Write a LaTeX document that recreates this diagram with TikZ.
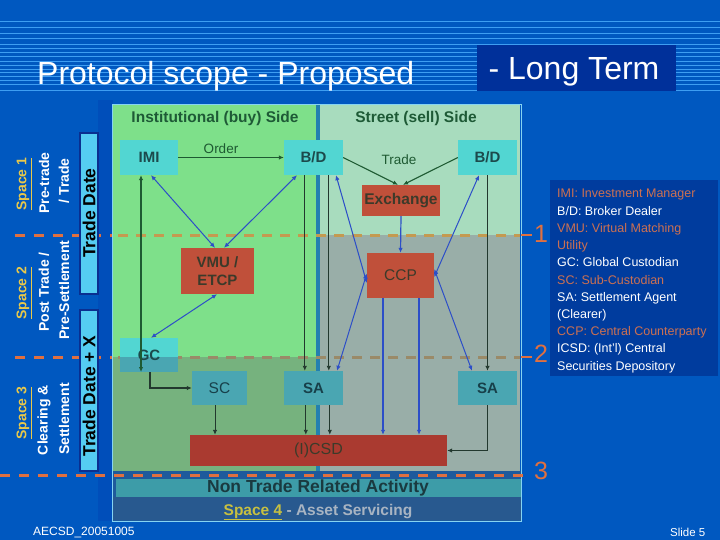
\documentclass[tikz,border=0pt]{standalone}
\usepackage{fontspec}
\setmainfont{Liberation Sans}
\usetikzlibrary{arrows.meta}
\definecolor{bg}{HTML}{0058C0}
\definecolor{stripec}{HTML}{3E9EF2}
\definecolor{ltbox}{HTML}{00309A}
\definecolor{greenup}{HTML}{7EE08A}
\definecolor{greenlow}{HTML}{76B27E}
\definecolor{mint}{HTML}{A8DCBE}
\definecolor{greyr}{HTML}{99AEA8}
\definecolor{divc}{HTML}{2380B0}
\definecolor{bandblue}{HTML}{1E5A9C}
\definecolor{ntband}{HTML}{3D9CA8}
\definecolor{sfourband}{HTML}{28598F}
\definecolor{framec}{HTML}{86D4F2}
\definecolor{cyanbox}{HTML}{52D6D2}
\definecolor{cyanlow}{HTML}{4AA6B2}
\definecolor{redbox}{HTML}{C0503A}
\definecolor{redlow}{HTML}{AA3A30}
\definecolor{boxtext}{HTML}{1C4A4C}
\definecolor{boxtextlow}{HTML}{17404A}
\definecolor{redtext}{HTML}{3C3A2A}
\definecolor{dgreen}{HTML}{1E5A32}
\definecolor{dline}{HTML}{22382E}
\definecolor{barrow}{HTML}{2C4EC8}
\definecolor{orangec}{HTML}{E07040}
\definecolor{tanc}{HTML}{C49A50}
\definecolor{tangrey}{HTML}{9A8A68}
\definecolor{spacey}{HTML}{E8C84A}
\definecolor{legor}{HTML}{CC7052}
\definecolor{tdbar}{HTML}{55CDF2}
\definecolor{tdborder}{HTML}{0A2F90}
\definecolor{leftstrip}{HTML}{004EBA}
\definecolor{legbg}{HTML}{003C9E}
\definecolor{headtext}{HTML}{1E5A36}
\definecolor{asgrey}{HTML}{A8B4C2}
\definecolor{s4yellow}{HTML}{C8C040}
\definecolor{nttext}{HTML}{1A3A40}
\begin{document}
\begin{tikzpicture}[x=1pt,y=-1pt,
  ubox/.style={fill=cyanbox, minimum width=58, minimum height=35, inner sep=0pt, text=boxtext, font=\bfseries\fontsize{15}{17}\selectfont},
  lbox/.style={ubox, fill=cyanlow, text=boxtextlow},
  rbox/.style={fill=redbox, inner sep=0pt, text=redtext, font=\fontsize{15.5}{17}\selectfont},
  vt/.style={rotate=90, text=white, font=\bfseries\fontsize{14}{16}\selectfont, inner sep=0pt},
  tdt/.style={rotate=90, text=black, font=\bfseries\fontsize{17.5}{19}\selectfont, inner sep=0pt},
  legl/.style={anchor=base west, inner sep=0pt, font=\fontsize{12.5}{14}\selectfont},
  garr/.style={draw=dgreen, line width=1.1pt, -{Latex[length=5pt,width=4.5pt]}},
  gdarr/.style={draw=dgreen, line width=1.1pt, {Latex[length=5pt,width=4.5pt]}-{Latex[length=5pt,width=4.5pt]}},
  karr/.style={draw=dline, line width=0.9pt, -{Latex[length=5pt,width=4.5pt]}},
  barr/.style={draw=barrow, line width=1.2pt, -{Latex[length=5pt,width=4.5pt]}},
  bdarr/.style={draw=barrow, line width=1pt, {Latex[length=5pt,width=4.5pt]}-{Latex[length=5pt,width=4.5pt]}},
  numlab/.style={text=orangec, font=\fontsize{25}{27}\selectfont, inner sep=0pt},
  odash/.style={draw=orangec, line width=3pt, dash pattern=on 10pt off 9pt},
]
\useasboundingbox (0,0) rectangle (720,540);
\fill[bg] (0,0) rectangle (720,540);
% header stripes
\foreach \yy in {22,28,34,39,45,49,53,57,62,66,70,73,77,81,85,91}
  \draw[stripec, line width=1pt] (0,\yy) -- (720,\yy);
\fill[ltbox] (477,45) rectangle (676,91);
\node[anchor=base west, inner sep=0pt, text=white, font=\fontsize{32}{38}\selectfont] (title) at (37,85) {Protocol scope - Proposed};
\node[anchor=base, inner sep=0pt, text=white, font=\fontsize{32}{38}\selectfont] (lterm) at (574,80) {- Long Term};

% regions
\fill[leftstrip] (98,100) rectangle (113,521);
\fill[greenup] (113,105) rectangle (316,357);
\fill[greenlow] (113,357) rectangle (316,471);
\fill[mint] (320,105) rectangle (520,235);
\fill[greyr] (320,235) rectangle (520,471);
\fill[divc] (316,105) rectangle (320,471);
\fill[bandblue] (113,471) rectangle (521,521);
\fill[ntband] (116,479) rectangle (521,497);
\fill[sfourband] (113,497) rectangle (521,520);
\draw[framec, line width=1.3pt] (112.5,104.5) rectangle (521.5,521.5);

% dashed lines
\draw[odash] (15,235) -- (112,235);
\draw[tanc, line width=3pt, dash pattern=on 10pt off 8pt] (118,235) -- (520,235);
\draw[orangec, line width=2.5pt] (521,235) -- (532,235);
\draw[odash] (15,357) -- (112,357);
\draw[tangrey, line width=3pt, dash pattern=on 10pt off 8pt] (118,357) -- (520,357);
\draw[orangec, line width=2.5pt] (521,357) -- (532,357);
\draw[odash] (0,475) -- (530,475);
\node[numlab] (n1) at (541,234) {1};
\node[numlab] (n2) at (541,354) {2};
\node[numlab] (n3) at (541,471) {3};

% left column
\fill[tdbar, draw=tdborder, line width=1.5pt] (80,133) rectangle (98,294);
\fill[tdbar, draw=tdborder, line width=1.5pt] (80,310) rectangle (98,471);
\node[tdt] (td) at (89,213) {Trade Date};
\node[tdt] (tdx) at (89,396) {Trade Date + X};
\node[vt, text=spacey] (s1) at (24,184) {\underline{Space 1}};
\node[vt] (s1a) at (44,183) {Pre-trade};
\node[vt] (s1b) at (64,181) {/ Trade};
\node[vt, text=spacey] (s2) at (24,293) {\underline{Space 2}};
\node[vt] (s2a) at (44,292) {Post Trade /};
\node[vt] (s2b) at (64,290) {Pre-Settlement};
\node[vt, text=spacey] (s3) at (24,413) {\underline{Space 3}};
\node[vt] (s3a) at (44,420) {Clearing \&};
\node[vt] (s3b) at (64,419) {Settlement};

% headers
\node[text=headtext, font=\bfseries\fontsize{15.5}{17}\selectfont, inner sep=0pt] (hbuy) at (215,118) {Institutional (buy) Side};
\node[text=headtext, font=\bfseries\fontsize{15.5}{17}\selectfont, inner sep=0pt] (hsell) at (416,118) {Street (sell) Side};

% boxes
\node[ubox] (imi) at (149,157.5) {IMI};
\node[ubox, minimum width=59] (bdl) at (313.5,157.5) {B/D};
\node[ubox, minimum width=59] (bdr) at (487.5,157.5) {B/D};
\node[rbox, minimum width=78, minimum height=31, font=\bfseries\fontsize{15.5}{17}\selectfont] (exch) at (401,200.5) {Exchange};
\node[rbox, minimum width=73, minimum height=46, align=center, font=\bfseries\fontsize{15}{18}\selectfont] (vmu) at (217.5,271) {VMU /\\ETCP};
\node[rbox, minimum width=67, minimum height=45] (ccp) at (400.5,275.5) {CCP};
\fill[cyanbox] (120,338) rectangle (178,357);
\fill[cyanlow] (120,357) rectangle (178,372);
\node[ubox, fill=none, minimum height=34] (gc) at (149,355) {GC};
\node[lbox, minimum width=55, minimum height=34, font=\fontsize{15.5}{17}\selectfont] (sc) at (219.5,388) {SC};
\node[lbox, minimum width=59, minimum height=34] (sal) at (313.5,388) {SA};
\node[lbox, minimum width=59, minimum height=34] (sar) at (487.5,388) {SA};
\node[rbox, fill=redlow, minimum width=257, minimum height=31, font=\fontsize{16}{18}\selectfont] (csd) at (318.5,450.5) {(I)CSD};

% labels
\node[text=dgreen, font=\fontsize{13.5}{15}\selectfont, inner sep=0pt] (order) at (221,149) {Order};
\node[text=dgreen, font=\fontsize{13.5}{15}\selectfont, inner sep=0pt] (trade) at (399,160) {Trade};

% bottom band texts
\node[text=nttext, font=\bfseries\fontsize{17.5}{19}\selectfont, inner sep=0pt] (ntra) at (318,488) {Non Trade Related Activity};
\node[font=\bfseries\fontsize{15.5}{17}\selectfont, inner sep=0pt] (sp4) at (318,512) {\textcolor{s4yellow}{\underline{Space 4}}\textcolor{asgrey}{\ - Asset Servicing}};

% connectors: trade date
\draw[garr] (imi.east) -- (bdl.west);
\draw[garr] (bdl.east) -- ([xshift=-3pt]exch.north);
\draw[garr] (bdr.west) -- ([xshift=2pt]exch.north);
\draw[barr] (exch.south) -- (ccp.north);
\draw[bdarr] ([xshift=2pt]imi.south) -- ([xshift=-2.5pt]vmu.north);
\draw[bdarr] ([xshift=-16.5pt]bdl.south) -- ([xshift=6.5pt]vmu.north);
\draw[bdarr] ([xshift=-0.5pt]vmu.south) -- ([xshift=2pt]gc.north);
\draw[gdarr] ([xshift=-8pt]imi.south) -- ([xshift=-8pt,yshift=-17pt]gc.center);
% GC -> SC
\draw[karr, draw=dline, line width=1.1pt] ([xshift=1pt]gc.south) |- (sc.west);
\draw[karr] ([xshift=-4.5pt]sc.south) -- ([xshift=-4.5pt]sc.south |- csd.north);
% B/D left down to SA
\draw[karr] ([xshift=21pt]bdl.south west) -- ([xshift=21pt]sal.north west);
\draw[karr] ([xshift=45pt]bdl.south west) -- ([xshift=45pt]sal.north west);
\draw[bdarr] ([xshift=22.5pt]bdl.south) -- ([yshift=-7.5pt]ccp.west);
\draw[bdarr] ([yshift=2pt]ccp.west) -- ([xshift=23.5pt]sal.north);
\draw[bdarr] ([xshift=-8.5pt]bdr.south) -- ([yshift=-1.5pt]ccp.east);
\draw[bdarr] ([yshift=6.5pt]ccp.east) -- ([xshift=-15.5pt]sar.north);
\draw[barr] ([xshift=-17.5pt]ccp.south) -- ([xshift=-17.5pt]ccp.south |- csd.north);
\draw[barr] ([xshift=18.5pt]ccp.south) -- ([xshift=18.5pt]ccp.south |- csd.north);
\draw[karr] (bdr.south) -- (sar.north);
\draw[karr] ([xshift=22pt]sal.south west) -- ([xshift=22pt]sal.south west |- csd.north);
\draw[karr] ([xshift=46pt]sal.south west) -- ([xshift=46pt]sal.south west |- csd.north);
\draw[karr, line width=1.1pt] (sar.south) |- (csd.east);

% legend
\fill[legbg] (550,180) rectangle (718,376);
\node[legl, text=legor] (lg1) at (557,198) {IMI: Investment Manager};
\node[legl, text=white] (lg2) at (557,215.2) {B/D: Broker Dealer};
\node[legl, text=legor] (lg3) at (557,232.4) {VMU: Virtual Matching};
\node[legl, text=legor] (lg4) at (557,249.6) {Utility};
\node[legl, text=white] (lg5) at (557,266.8) {GC: Global Custodian};
\node[legl, text=legor] (lg6) at (557,284) {SC: Sub-Custodian};
\node[legl, text=white] (lg7) at (557,301.2) {SA: Settlement Agent};
\node[legl, text=white] (lg8) at (557,318.4) {(Clearer)};
\node[legl, text=legor] (lg9) at (557,335.6) {CCP: Central Counterparty};
\node[legl, text=white] (lg10) at (557,352.8) {ICSD: (Int'l) Central};
\node[legl, text=white] (lg11) at (557,370) {Securities Depository};

% footer
\node[anchor=base west, inner sep=0pt, text=white, font=\fontsize{12}{14}\selectfont] (foot) at (33,535) {AECSD\_20051005};
\node[anchor=base west, inner sep=0pt, text=white, font=\fontsize{11.5}{13}\selectfont] (slide) at (670,536.5) {Slide 5};
\end{tikzpicture}
\end{document}
